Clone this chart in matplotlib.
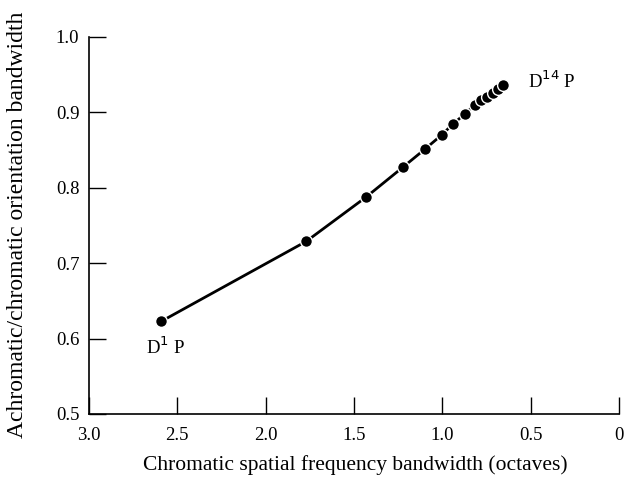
import matplotlib
matplotlib.use("Agg")
import matplotlib.pyplot as plt

# Data
chromatic_sf_bw = [2.59, 1.77, 1.43, 1.225, 1.10, 1.004, 0.938, 0.872, 0.816,
                   0.78, 0.745, 0.715, 0.685, 0.655]
ratio_bw = [0.623, 0.729, 0.788, 0.827, 0.851, 0.870, 0.885, 0.898, 0.910,
            0.916, 0.921, 0.926, 0.931, 0.937]
x_ticks = [3.0, 2.5, 2.0, 1.5, 1.0, 0.5, 0.0]
x_tick_labels = ["3.0", "2.5", "2.0", "1.5", "1.0", "0.5", "0"]
y_ticks = [0.5, 0.6, 0.7, 0.8, 0.9, 1.0]
y_tick_labels = ["0.5", "0.6", "0.7", "0.8", "0.9", "1.0"]

plt.rcParams['font.family'] = ['Liberation Serif', 'DejaVu Serif']

fig = plt.figure(figsize=(6.26, 4.79), dpi=100)
ax = fig.add_axes([89/626, 1 - 414/479, (619 - 89)/626, (414 - 37)/479])

ax.plot(chromatic_sf_bw, ratio_bw, color='black', lw=2.0, marker='o',
        markersize=8.5, markerfacecolor='black', markeredgecolor='white',
        markeredgewidth=1.0, zorder=3, clip_on=False)

ax.set_xlim(3.0, 0.0)
ax.set_ylim(0.5, 1.0)
ax.set_xticks(x_ticks)
ax.set_xticklabels(x_tick_labels)
ax.set_yticks(y_ticks)
ax.set_yticklabels(y_tick_labels)

for s in ['top', 'right']:
    ax.spines[s].set_visible(False)
for s in ['left', 'bottom']:
    ax.spines[s].set_linewidth(1.2)

ax.tick_params(direction='in', length=12, width=1.0, labelsize=13.5)
ax.tick_params(axis='x', pad=9)
ax.tick_params(axis='y', pad=7)

xl = ax.set_xlabel("Chromatic spatial frequency bandwidth (octaves)", fontsize=15.5)
ax.xaxis.set_label_coords((355 - 89) / 530, -(465 - 414) / 377)
xl.set_va('center')
yl = ax.set_ylabel("Achromatic/chromatic orientation bandwidth", fontsize=17)
ax.yaxis.set_label_coords(-(89 - 18) / 530, (414 - 225) / 377)
yl.set_va('center')

ax.annotate("D$^{1}$ P", xy=(chromatic_sf_bw[0], ratio_bw[0]), xytext=(3, -19),
            textcoords='offset points', ha='center', va='center', fontsize=13.5)
ax.annotate("D$^{14}$ P", xy=(chromatic_sf_bw[-1], ratio_bw[-1]), xytext=(18, 2),
            textcoords='offset points', ha='left', va='center', fontsize=13.5)

fig.savefig("out.png", dpi=100)
